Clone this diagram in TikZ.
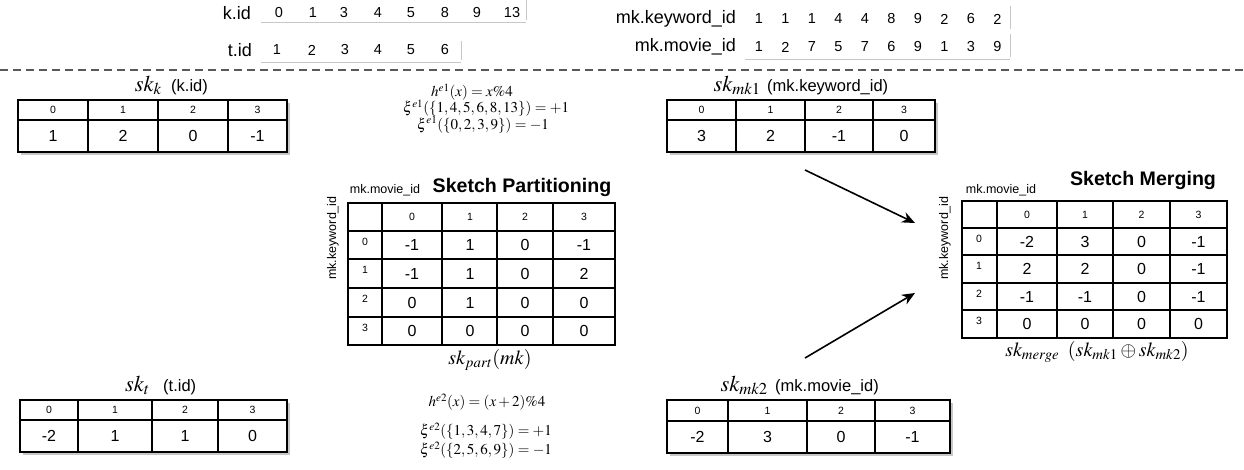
\documentclass[tikz,border=0pt]{standalone}
\usepackage{mathptmx}
\usepackage[no-math]{fontspec}
\setmainfont{Liberation Sans}
\usetikzlibrary{arrows.meta}
\begin{document}
\begin{tikzpicture}[x=1pt,y=-1pt,
  tbl/.style={line width=2pt, draw=black, line cap=rect},
  shd/.style={fill=black!22},
  hd/.style={font=\fontsize{10.5}{12}\selectfont, inner sep=0pt},
  val/.style={font=\fontsize{16}{18}\selectfont, inner sep=0pt},
  lbl/.style={font=\fontsize{18}{20}\selectfont, inner sep=0pt},
  num/.style={font=\fontsize{14.5}{17}\selectfont, inner sep=0pt},
  ttl/.style={font=\fontsize{16.5}{18}\selectfont, inner sep=0pt},
  mth/.style={font=\fontsize{22.5}{24}\selectfont, inner sep=0pt},
  frm/.style={font=\fontsize{15}{16}\selectfont, inner sep=0pt},
  captext/.style={font=\fontsize{20}{22}\selectfont, inner sep=0pt},
  small/.style={font=\fontsize{12.5}{14}\selectfont, inner sep=0pt},
  bold/.style={font=\fontsize{19.6}{21}\selectfont\bfseries, inner sep=0pt},
  gline/.style={draw=black!22, line width=1pt},
  dline/.style={draw=black!65, line width=1.6pt, dash pattern=on 8pt off 5pt},
  arr/.style={line width=1.6pt, -{Stealth[length=13pt,width=11pt]}}
]
\useasboundingbox (0,0) rectangle (1244,469);

% ---------- top rows ----------
\node[lbl, anchor=east] (kid) at (251,13) {k.id};
\foreach \v/\x [count=\i] in {0/279,1/313,3/344,4/378,5/411,8/445,9/477,13/512}
  \node[num] (kn\i) at (\x,13) {\v};
\draw[gline] (261,22) -- (526,22);
\draw[gline] (526,0) -- (526,20);

\node[lbl, anchor=east] (tid) at (252,50) {t.id};
\foreach \v/\x [count=\i] in {1/277,2/312,3/345,4/378,5/411,6/445}
  \node[num] (tn\i) at (\x,50) {\v};
\draw[gline] (261,62) -- (461,62);
\draw[gline] (461,41) -- (461,60);

\node[lbl, anchor=east] (mkk) at (736,19) {mk.keyword\_id};
\foreach \v [count=\i from 0] in {1,1,1,4,4,8,9,2,6,2}
  \node[num] (mkn\i) at ({759+26.5*\i},19) {\v};
\node[lbl, anchor=east] (mkm) at (736,47) {mk.movie\_id};
\foreach \v [count=\i from 0] in {1,2,7,5,7,6,9,1,3,9}
  \node[num] (mmn\i) at ({759+26.5*\i},47) {\v};
\draw[gline] (745,59) -- (1010,59);
\draw[gline] (1010,6) -- (1010,29);
\draw[gline] (1010,34) -- (1010,57);

\draw[dline] (0,70) -- (1244,70);

% ---------- sk_k ----------
\node[mth, anchor=base east] (skk) at (162,91) {$sk_k$};
\node[ttl, anchor=base west] (skkl) at (171,91) {(k.id)};
\fill[shd] (21,103) rectangle (290,155);
\draw[tbl, fill=white] (18,100) rectangle (287,152);
\draw[tbl] (18,120) -- (287,120);
\foreach \x in {88,158,228} \draw[tbl] (\x,100) -- (\x,152);
\foreach \a/\b/\h/\v [count=\i] in {18/88/0/1,88/158/1/2,158/228/2/0,228/287/3/-1} {
  \node[hd] (kh\i) at ({(\a+\b)/2},110) {\h};
  \node[val] (kv\i) at ({(\a+\b)/2},136) {\v};
}

% ---------- sk_t ----------
\node[mth, anchor=base east] (skt) at (150,391) {$sk_t$};
\node[ttl, anchor=base west] (sktl) at (163,391) {(t.id)};
\fill[shd] (23,403) rectangle (290,455);
\draw[tbl, fill=white] (20,400) rectangle (287,452);
\draw[tbl] (20,420) -- (287,420);
\foreach \x in {78,152,218} \draw[tbl] (\x,400) -- (\x,452);
\foreach \a/\b/\h/\v [count=\i] in {20/78/0/-2,78/152/1/1,152/218/2/1,218/287/3/0} {
  \node[hd] (th\i) at ({(\a+\b)/2},410) {\h};
  \node[val] (tv\i) at ({(\a+\b)/2},436) {\v};
}

% ---------- sk_mk1 ----------
\node[mth, anchor=base east] (skm1) at (761,91) {$sk_{mk1}$};
\node[ttl, anchor=base west] (skm1l) at (767,91) {(mk.keyword\_id)};
\fill[shd] (670,103) rectangle (938,155);
\draw[tbl, fill=white] (667,100) rectangle (935,152);
\draw[tbl] (667,120) -- (935,120);
\foreach \x in {736,805,873} \draw[tbl] (\x,100) -- (\x,152);
\foreach \a/\b/\h/\v [count=\i] in {667/736/0/3,736/805/1/2,805/873/2/-1,873/935/3/0} {
  \node[hd] (m1h\i) at ({(\a+\b)/2},110) {\h};
  \node[val] (m1v\i) at ({(\a+\b)/2},136) {\v};
}

% ---------- sk_mk2 ----------
\node[mth, anchor=base east] (skm2) at (768,391) {$sk_{mk2}$};
\node[ttl, anchor=base west] (skm2l) at (775,391) {(mk.movie\_id)};
\fill[shd] (670,403) rectangle (953,456);
\draw[tbl, fill=white] (667,400) rectangle (950,453);
\draw[tbl] (667,421) -- (950,421);
\foreach \x in {728,807,875} \draw[tbl] (\x,400) -- (\x,453);
\foreach \a/\b/\h/\v [count=\i] in {667/728/0/-2,728/807/1/3,807/875/2/0,875/950/3/-1} {
  \node[hd] (m2h\i) at ({(\a+\b)/2},410.5) {\h};
  \node[val] (m2v\i) at ({(\a+\b)/2},437) {\v};
}

% ---------- formulas ----------
\node[frm] (he1) at (472,92) {$h^{e1}(x) = x\%4$};
\node[frm] (xe1a) at (486,108) {$\xi^{e1}(\{1,4,5,6,8,13\}) = +1$};
\node[frm] (xe1b) at (483,124.5) {$\xi^{e1}(\{0,2,3,9\}) = -1$};
\node[frm] (he2) at (487,402) {$h^{e2}(x) = (x+2)\%4$};
\node[frm] (xe2a) at (486,431) {$\xi^{e2}(\{1,3,4,7\}) = +1$};
\node[frm] (xe2b) at (486,450) {$\xi^{e2}(\{2,5,6,9\}) = -1$};

% ---------- partition table ----------
\node[small] (pmov) at (385,190) {mk.movie\_id};
\node[bold] (ptitle) at (522,187) {Sketch Partitioning};
\node[small, rotate=90] (pkey) at (333,238) {mk.keyword\_id};
\draw[tbl] (348,203) rectangle (615,345);
\foreach \y in {231,259,288,317} \draw[tbl] (348,\y) -- (615,\y);
\foreach \x in {382,442,497,553} \draw[tbl] (\x,203) -- (\x,345);
\foreach \h [count=\c from 0] in {0,1,2,3} {
  \pgfmathsetmacro\xx{{412,470,525,584}[\c]}
  \pgfmathsetmacro\yy{{242,270,299,328}[\c]}
  \node[hd] (pch\c) at (\xx,217) {\h};
  \node[hd] (prh\c) at (365,\yy) {\h};
}
\foreach \row [count=\r from 0] in {{-1,1,0,-1},{-1,1,0,2},{0,1,0,0},{0,0,0,0}} {
  \foreach \v [count=\c from 0] in \row {
    \pgfmathsetmacro\xx{{412,470,525,584}[\c]}
    \pgfmathsetmacro\yy{{245,273.5,302.5,331}[\r]}
    \node[val] (pv\r\c) at (\xx,\yy) {\v};
  }
}
\node[captext] (pcap) at (490,360) {$sk_{part}(mk)$};

% ---------- merge table ----------
\node[small] (mmov) at (1001,190) {mk.movie\_id};
\node[bold] (mtitle) at (1143,180) {Sketch Merging};
\node[small, rotate=90] (mkey) at (945,238) {mk.keyword\_id};
\draw[tbl] (962,201) rectangle (1227,338);
\foreach \y in {228,255,283,310} \draw[tbl] (962,\y) -- (1227,\y);
\foreach \x in {997,1057,1113,1170} \draw[tbl] (\x,201) -- (\x,338);
\foreach \h [count=\c from 0] in {0,1,2,3} {
  \pgfmathsetmacro\xx{{1027,1085,1141.5,1198.5}[\c]}
  \pgfmathsetmacro\yy{{238.5,266,293.5,321}[\c]}
  \node[hd] (mch\c) at (\xx,214.5) {\h};
  \node[hd] (mrh\c) at (979,\yy) {\h};
}
\foreach \row [count=\r from 0] in {{-2,3,0,-1},{2,2,0,-1},{-1,-1,0,-1},{0,0,0,0}} {
  \foreach \v [count=\c from 0] in \row {
    \pgfmathsetmacro\xx{{1027,1085,1141.5,1198.5}[\c]}
    \pgfmathsetmacro\yy{{241.5,269,296.5,324}[\r]}
    \node[val] (mv\r\c) at (\xx,\yy) {\v};
  }
}
\node[captext] (mcap) at (1097,352) {$sk_{merge}\;\;(sk_{mk1} \oplus sk_{mk2})$};

% ---------- arrows ----------
\coordinate (a1s) at (805,170);
\coordinate (a1e) at (915,223);
\coordinate (a2s) at (805,358);
\coordinate (a2e) at (915,293);
\draw[arr] (a1s) -- (a1e);
\draw[arr] (a2s) -- (a2e);
\end{tikzpicture}
\end{document}
